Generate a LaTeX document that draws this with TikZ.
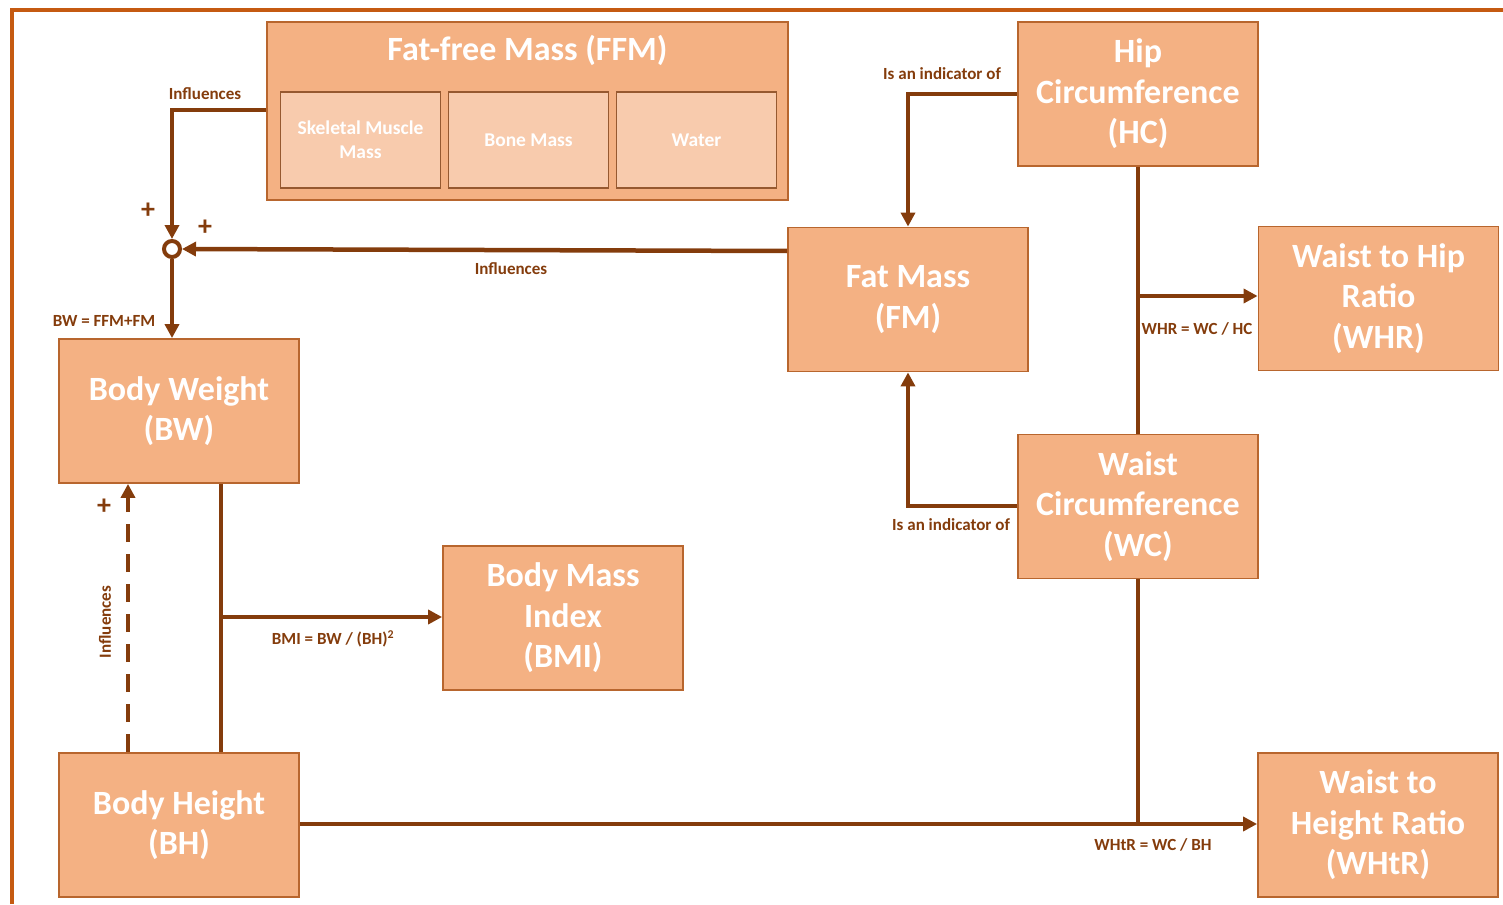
\documentclass[tikz,border=0pt]{standalone}
\usepackage{fontspec}
\setmainfont{Carlito}
\usetikzlibrary{arrows.meta}
\definecolor{boxfill}{HTML}{F4B183}
\definecolor{subfill}{HTML}{F8CBAD}
\definecolor{boxline}{HTML}{B8662E}
\definecolor{link}{HTML}{843C0C}
\definecolor{frame}{HTML}{C55A11}
\tikzset{
  block/.style={draw=boxline, line width=1.8pt, fill=boxfill, text=white,
    font=\fontsize{34}{40.5}\selectfont\bfseries, align=center,
    minimum width=240pt, minimum height=144pt, inner sep=0pt},
  subblock/.style={draw=link!85, line width=1.6pt, fill=subfill, text=white,
    font=\fontsize{19.5}{24}\selectfont\bfseries, align=center,
    minimum width=160pt, minimum height=96pt, inner sep=0pt},
  conn/.style={draw=link, line width=4.5pt},
  arr/.style={conn, -{Triangle[length=14pt,width=14pt]}},
  lbl/.style={text=link, font=\fontsize{17}{18}\selectfont\bfseries, inner sep=0pt},
  sign/.style={text=link, font=\fontsize{28}{28}\selectfont\bfseries, inner sep=0pt},
}
\begin{document}
\begin{tikzpicture}[x=1pt, y=-1pt]
\useasboundingbox (0,0) rectangle (1503,904);
% outer frame, top and left edges
\draw[frame, line width=4pt] (12,904) -- (12,10) -- (1503,10);

% fat-free mass group
\node[draw=boxline, line width=1.8pt, fill=boxfill, minimum width=521pt, minimum height=178pt, inner sep=0pt] (ffm) at (527.5,111) {};
\node[text=white, font=\fontsize{34}{38}\selectfont\bfseries] (ffmt) at (527.5,50) {Fat-free Mass (FFM)};
\node[subblock] (skm) at (360.5,140) {Skeletal Muscle\\Mass};
\node[subblock] (bone) at (528.5,140) {Bone Mass};
\node[subblock] (water) at (696.5,140) {Water};

% measures
\node[block] (hc) at (1138,94) {Hip\\Circumference\\(HC)};
\node[block] (fm) at (908,299.5) {Fat Mass\\(FM)};
\node[block] (whr) at (1378.5,298.5) {Waist to Hip\\Ratio\\(WHR)};
\node[block] (wc) at (1138,506.5) {Waist\\Circumference\\(WC)};
\node[block] (bw) at (179,411) {Body Weight\\(BW)};
\node[block] (bmi) at (563,618) {Body Mass\\Index\\(BMI)};
\node[block] (bh) at (179,825) {Body Height\\(BH)};
\node[block] (whtr) at (1378,825) {Waist to\\Height Ratio\\(WHtR)};

% summing junction
\node[circle, draw=link, line width=4pt, fill=white, minimum size=16pt, inner sep=0pt] (sum) at (172,249) {};
\coordinate (ffmout) at (ffm.west |- 0,110);
\draw[arr] (ffmout) -| (sum.north);
\node[lbl] at (205,94) {Influences};
\node[sign] at (148,211) {+};
\node[sign] at (205,228) {+};
\draw[arr] (fm.west |- 0,251) -- (sum.east);
\node[lbl] at (511,269) {Influences};
\draw[arr] (sum.south) -- (bw.north -| sum);
\node[lbl] at (104,321) {BW = FFM+FM};

% indicators of fat mass
\draw[arr] (hc.west |- 0,94) -| (fm.north);
\node[lbl] at (942,74) {Is an indicator of};
\draw[arr] (wc.west |- 0,506) -| (fm.south);
\node[lbl] at (951,525) {Is an indicator of};

% ratios from circumferences
\draw[conn] (hc.south) -- (wc.north);
\coordinate (whrj) at (1138,296);
\draw[arr] (whrj) -- (whr.west |- whrj);
\node[lbl] at (1197,329) {WHR = WC / HC};
\coordinate (whtrj) at (1138,824);
\draw[conn] (wc.south) -- (whtrj);
\draw[arr] (bh.east |- whtrj) -- (whtr.west |- whtrj);
\node[lbl] at (1153,845) {WHtR = WC / BH};

% body mass index
\coordinate (bwout) at (221,482);
\draw[conn] (bw.south -| bwout) -- (bh.north -| bwout);
\coordinate (bmij) at (221,617);
\draw[arr] (bmij) -- (bmi.west |- bmij);
\node[lbl] at (333,639) {BMI = BW / (BH)\textsuperscript{2}};

% height influences weight
\draw[conn, dash pattern=on 18pt off 12pt, -{Triangle[length=14pt,width=14pt]}] (bh.north -| 128,0) -- (bw.south -| 128,0);
\node[sign] at (104,507) {+};
\node[lbl, rotate=90] at (105,622) {Influences};
\end{tikzpicture}
\end{document}
